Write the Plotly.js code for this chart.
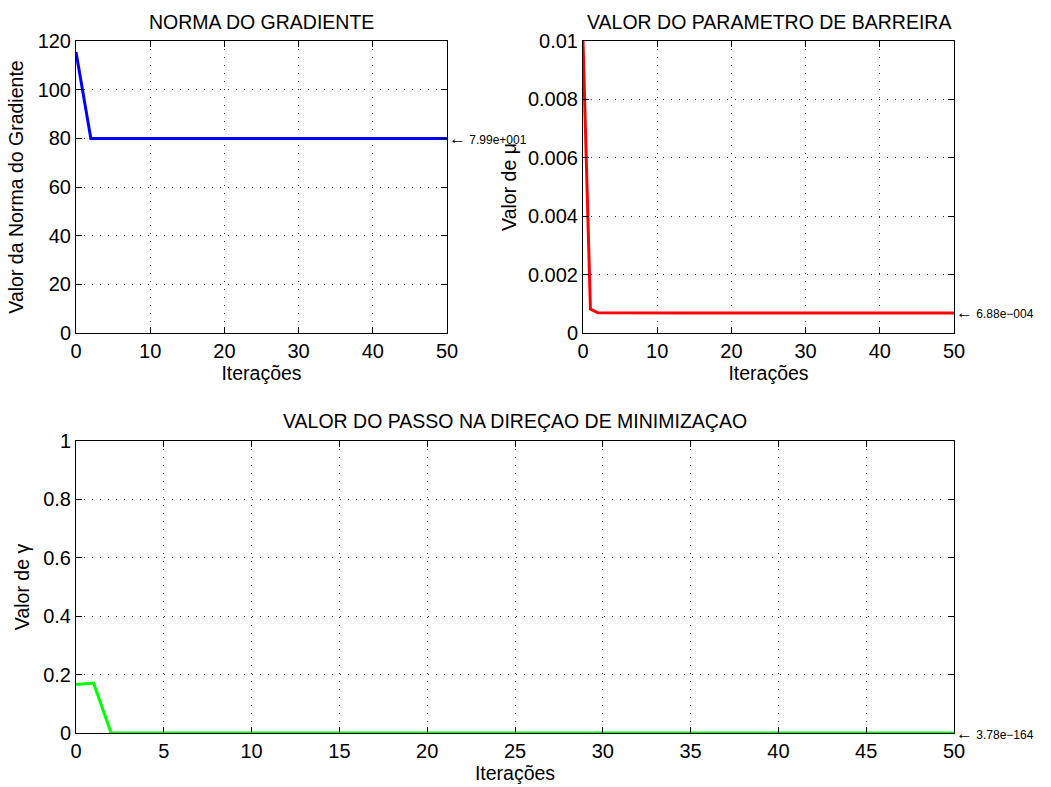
<!DOCTYPE html>
<html><head><meta charset="utf-8">
<script src="https://cdn.plot.ly/plotly-3.0.1.min.js"></script>
<style>body{margin:0;background:#fff}#c{width:1051px;height:787px}</style>
</head><body><div id="c"></div>
<script>
const iterations = Array.from({length: 51}, (_, i) => i);
const gradNorm = [115.5, 97.7, 79.9].concat(Array(48).fill(79.9));
const barrier = [0.01, 0.00082, 0.00069].concat(Array(48).fill(0.000688));
const gammaStep = [0.166, 0.171, 0].concat(Array(48).fill(0));
const endValues = ['7.99e+001', '6.88e\u2212004', '3.78e\u2212164'];
const titles = ['NORMA DO GRADIENTE', 'VALOR DO PARAMETRO DE BARREIRA', 'VALOR DO PASSO NA DIREÇAO DE MINIMIZAÇAO'];

const W = 1051, H = 787;
const fx = p => p / W, fy = p => 1 - p / H;
const fam = 'Liberation Sans, Arial, sans-serif';
const tickFont = {family: fam, size: 20, color: '#000'};
const labFont = {family: fam, size: 19.5, color: '#000'};
const titleFont = {family: fam, size: 19.5, color: '#000'};
const noteFont = {family: fam, size: 12, color: '#000'};
const note = v => '<span style="font-size:17px">\u2190</span> ' + v;

function axis(extra) {
  return Object.assign({
    showline: true, linecolor: '#000', linewidth: 1, mirror: 'allticks',
    ticks: 'inside', ticklen: 6, tickcolor: '#000',
    showgrid: true, gridcolor: '#333', gridwidth: 1, griddash: '1px,7px',
    zeroline: false, tickfont: tickFont, exponentformat: 'none', fixedrange: true
  }, extra);
}

const traces = [
  {x: iterations, y: gradNorm, xaxis: 'x', yaxis: 'y', mode: 'lines', line: {color: '#0000ff', width: 3}},
  {x: iterations, y: barrier, xaxis: 'x2', yaxis: 'y2', mode: 'lines', line: {color: '#ff0000', width: 3}},
  {x: iterations, y: gammaStep, xaxis: 'x3', yaxis: 'y3', mode: 'lines', line: {color: '#00ff00', width: 3}}
];

const xt = {text: 'Iterações', font: labFont, standoff: 2};
const layout = {
  width: W, height: H, showlegend: false,
  paper_bgcolor: '#fff', plot_bgcolor: '#fff',
  margin: {l: 0, r: 0, t: 0, b: 0},
  font: labFont,
  xaxis: axis({domain: [fx(76), fx(447)], range: [0, 50], dtick: 10, anchor: 'y', title: xt}),
  yaxis: axis({domain: [fy(333), fy(41)], range: [0, 120], dtick: 20, anchor: 'x', title: {text: 'Valor da Norma do Gradiente', font: labFont, standoff: 8}}),
  xaxis2: axis({domain: [fx(583), fx(954)], range: [0, 50], dtick: 10, anchor: 'y2', title: xt}),
  yaxis2: axis({domain: [fy(333), fy(41)], range: [0, 0.01], dtick: 0.002, anchor: 'x2', title: {text: 'Valor de μ', font: labFont, standoff: 6}}),
  xaxis3: axis({domain: [fx(76), fx(954)], range: [0, 50], dtick: 5, anchor: 'y3', title: xt}),
  yaxis3: axis({domain: [fy(733), fy(441)], range: [0, 1], dtick: 0.2, anchor: 'x3', title: {text: 'Valor de γ', font: labFont, standoff: 8}}),
  annotations: [
    {xref: 'x', yref: 'y', x: 50, y: gradNorm[50], text: note(endValues[0]), showarrow: false, xanchor: 'left', yanchor: 'middle', font: noteFont},
    {xref: 'x2', yref: 'y2', x: 50, y: barrier[50], text: note(endValues[1]), showarrow: false, xanchor: 'left', yanchor: 'middle', font: noteFont},
    {xref: 'x3', yref: 'y3', x: 50, y: gammaStep[50], text: note(endValues[2]), showarrow: false, xanchor: 'left', yanchor: 'middle', font: noteFont},
    {xref: 'paper', yref: 'paper', x: fx(261.5), y: fy(22), text: titles[0], showarrow: false, xanchor: 'center', yanchor: 'middle', font: titleFont},
    {xref: 'paper', yref: 'paper', x: fx(768.5), y: fy(22), text: titles[1], showarrow: false, xanchor: 'center', yanchor: 'middle', font: titleFont},
    {xref: 'paper', yref: 'paper', x: fx(515), y: fy(421), text: titles[2], showarrow: false, xanchor: 'center', yanchor: 'middle', font: titleFont}
  ]
};
Plotly.newPlot('c', traces, layout, {displayModeBar: false, staticPlot: true});
</script></body></html>
